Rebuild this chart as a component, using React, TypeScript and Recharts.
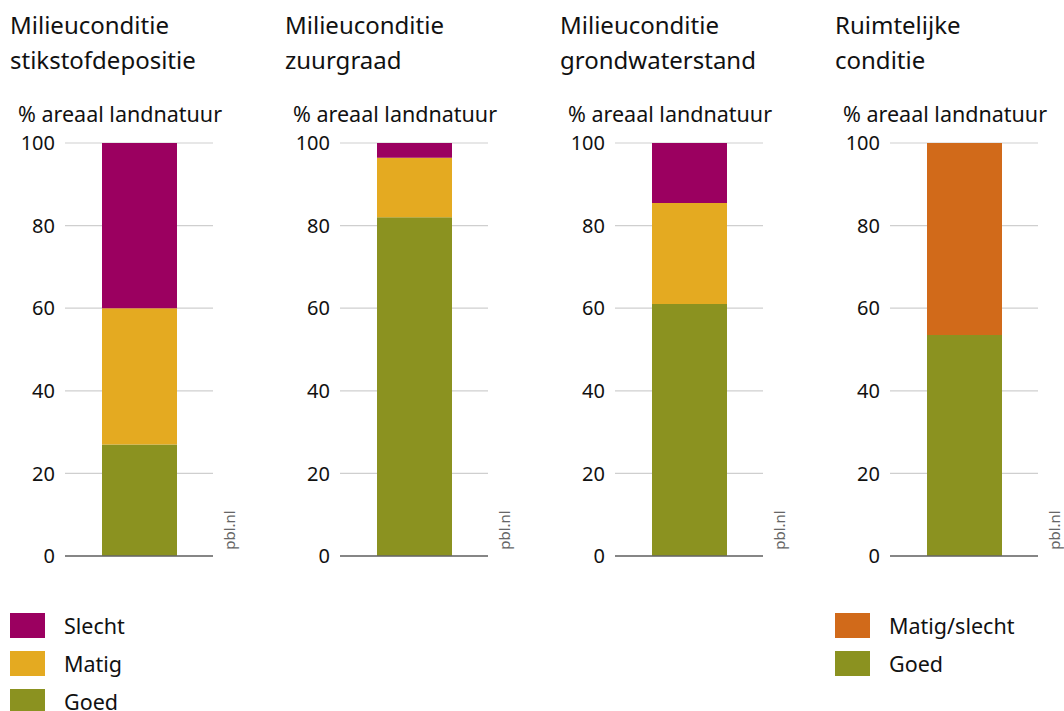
import React from 'react';
import { BarChart, Bar, XAxis, YAxis, CartesianGrid, ReferenceLine } from 'recharts';

const titles: string[][] = [
  ['Milieuconditie', 'stikstofdepositie'],
  ['Milieuconditie', 'zuurgraad'],
  ['Milieuconditie', 'grondwaterstand'],
  ['Ruimtelijke', 'conditie'],
];

const goed = [27, 82, 61, 53.5];
const matig = [33, 14.4, 24.5, 0];
const slecht = [40, 3.6, 14.5, 0];
const matigSlecht = [0, 0, 0, 46.5];

const yTicks = [0, 20, 40, 60, 80, 100];
const unitLabel = '% areaal landnatuur';
const source = 'pbl.nl';

const legendLeft = [
  { name: 'Slecht', color: '#9b0060' },
  { name: 'Matig', color: '#e4aa21' },
  { name: 'Goed', color: '#8b9220' },
];
const legendRight = [
  { name: 'Matig/slecht', color: '#d16a1a' },
  { name: 'Goed', color: '#8b9220' },
];

const FONT = '"Noto Sans", "Open Sans", sans-serif';
const PANEL_STEP = 275;

function Panel({ index }: { index: number }) {
  const data = [
    {
      name: titles[index].join(' '),
      goed: goed[index],
      matig: matig[index],
      slecht: slecht[index],
      matigSlecht: matigSlecht[index],
    },
  ];
  const left = index * PANEL_STEP;
  return (
    <>
      <div style={{ position: 'absolute', left: left + 10, top: 7, fontSize: 24, lineHeight: '35px', color: '#111' }}>
        {titles[index].map((t) => (
          <div key={t}>{t}</div>
        ))}
      </div>
      <div style={{ position: 'absolute', left: left + 18, top: 99, fontSize: 21.5, lineHeight: '30px', color: '#111' }}>
        {unitLabel}
      </div>
      <div
        style={{
          position: 'absolute',
          left: left + 229,
          top: 530,
          fontSize: 15,
          color: '#666',
          transform: 'translate(-50%, -50%) rotate(-90deg)',
          whiteSpace: 'nowrap',
        }}
      >
        {source}
      </div>
      <div style={{ position: 'absolute', left, top: 0 }}>
        <BarChart width={230} height={580} data={data} margin={{ top: 143, right: 17, bottom: 24, left: 0 }}>
          <CartesianGrid vertical={false} stroke="#cfcfcf" strokeWidth={1.2} />
          <XAxis dataKey="name" hide />
          <YAxis
            domain={[0, 100]}
            ticks={yTicks}
            width={65}
            axisLine={false}
            tickLine={false}
            tickSize={0}
            tickMargin={10}
            interval={0}
            tick={{ fill: '#111', fontSize: 20, fontFamily: FONT }}
          />
          <ReferenceLine y={0} stroke="#666" strokeWidth={1.5} />
          <Bar dataKey="goed" stackId="a" fill="#8b9220" barSize={75} isAnimationActive={false} />
          <Bar dataKey="matig" stackId="a" fill="#e4aa21" barSize={75} isAnimationActive={false} />
          <Bar dataKey="slecht" stackId="a" fill="#9b0060" barSize={75} isAnimationActive={false} />
          <Bar dataKey="matigSlecht" stackId="a" fill="#d16a1a" barSize={75} isAnimationActive={false} />
        </BarChart>
      </div>
    </>
  );
}

function LegendBlock({ items, left }: { items: { name: string; color: string }[]; left: number }) {
  return (
    <>
      {items.map((it, i) => (
        <div key={it.name} style={{ position: 'absolute', left, top: 612 + i * 38, display: 'flex', alignItems: 'center' }}>
          <div style={{ width: 35, height: 25, background: it.color }} />
          <div style={{ marginLeft: 19, fontSize: 21.5, lineHeight: '27px', color: '#111' }}>{it.name}</div>
        </div>
      ))}
    </>
  );
}

export default function App() {
  return (
    <div
      style={{
        position: 'absolute',
        left: 0,
        top: 0,
        width: 1064,
        height: 711,
        overflow: 'hidden',
        background: '#fff',
        fontFamily: FONT,
      }}
    >
      {titles.map((_, i) => (
        <Panel key={i} index={i} />
      ))}
      <LegendBlock items={legendLeft} left={10} />
      <LegendBlock items={legendRight} left={835} />
    </div>
  );
}
